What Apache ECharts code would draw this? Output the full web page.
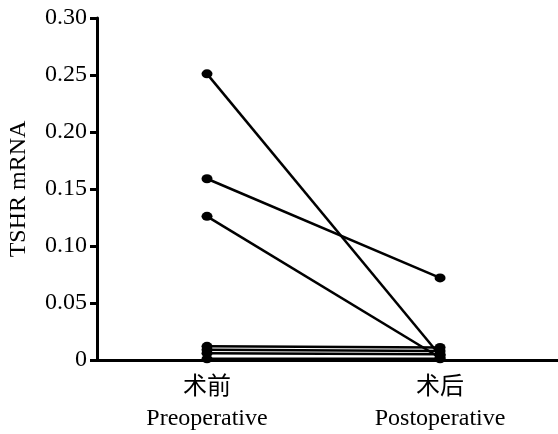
<!DOCTYPE html>
<html><head><meta charset="utf-8">
<script src="https://cdn.jsdelivr.net/npm/echarts@6/dist/echarts.min.js"></script>
<style>html,body{margin:0;padding:0;background:#fff}#c{width:558px;height:434px}</style>
</head><body><div id="c"></div>
<script>
var categories = ['术前\nPreoperative', '术后\nPostoperative'];
var preValues = [0.251, 0.159, 0.126, 0.012, 0.009, 0.006, 0.001];
var postValues = [0.004, 0.072, 0.002, 0.011, 0.008, 0.005, 0.001];
var yTicks = [0, 0.05, 0.10, 0.15, 0.20, 0.25, 0.30];

var serif = '"Liberation Serif","Noto Sans CJK SC",serif';
var series = preValues.map(function (p, i) {
  return {
    type: 'line',
    data: [[1, p], [2, postValues[i]]],
    symbol: 'circle',
    symbolSize: [11, 9],
    lineStyle: {color: '#000', width: 2.5},
    itemStyle: {color: '#000'},
    animation: false,
    silent: true
  };
});
var chart = echarts.init(document.getElementById('c'), null, {renderer: 'canvas'});
chart.setOption({
  backgroundColor: '#fff',
  grid: {left: 97, right: 0, top: 18, bottom: 74, containLabel: false, outerBoundsMode: 'none'},
  xAxis: {
    type: 'value', min: 0.528, max: 2.506,
    axisLine: {show: true, lineStyle: {color: '#000', width: 3}},
    axisTick: {show: false},
    splitLine: {show: false},
    axisLabel: {
      customValues: [1, 2], margin: 12, color: '#000', fontSize: 24, lineHeight: 31,
      fontFamily: serif,
      formatter: function (v) { return categories[Math.round(v) - 1] || ''; }
    }
  },
  yAxis: {
    type: 'value', min: 0, max: 0.3, interval: 0.05,
    name: 'TSHR mRNA', nameLocation: 'middle', nameGap: 66,
    nameTextStyle: {color: '#000', fontSize: 24, fontFamily: serif},
    axisLine: {show: true, lineStyle: {color: '#000', width: 3}},
    axisTick: {show: true, length: 7, lineStyle: {color: '#000', width: 3}},
    splitLine: {show: false},
    axisLabel: {
      color: '#000', fontSize: 24, margin: 10, fontFamily: serif,
      customValues: yTicks,
      formatter: function (v) { return v === 0 ? '0' : v.toFixed(2); }
    }
  },
  series: series
});
</script></body></html>
